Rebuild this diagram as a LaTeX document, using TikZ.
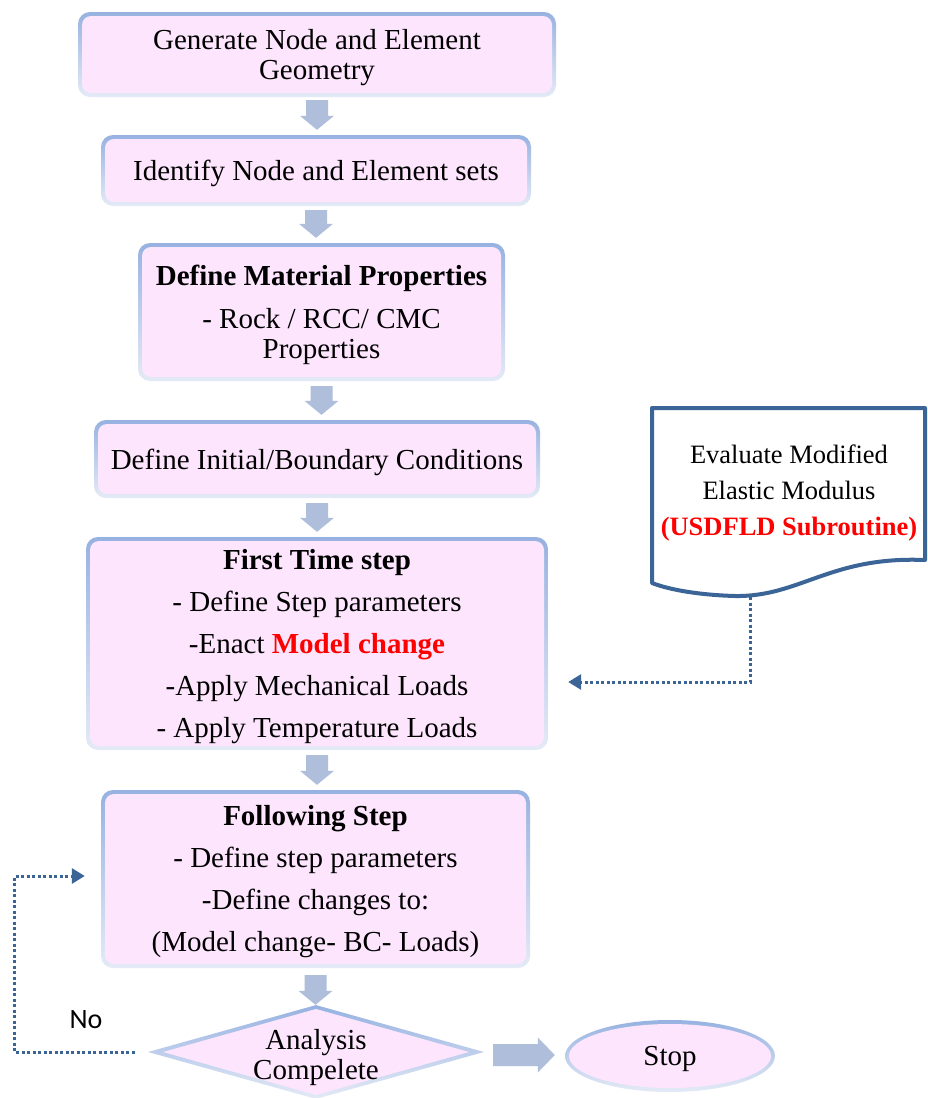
\documentclass[tikz,border=0pt]{standalone}
\usepackage{fontspec}
\setmainfont{Liberation Serif}
\newfontfamily\calfont{Carlito}
\usetikzlibrary{shapes.geometric,arrows.meta,calc}
\definecolor{pinkfill}{RGB}{253,229,253}
\definecolor{bordertop}{RGB}{151,178,225}
\definecolor{borderbot}{RGB}{228,234,246}
\definecolor{arrowc}{RGB}{174,190,219}
\definecolor{darkblue}{RGB}{59,100,151}
\definecolor{redtxt}{RGB}{255,0,0}
\newcommand{\vblock}[4]{%
  \coordinate (A) at ($(#1.south)+(0,-#3)$);
  \coordinate (B) at ($(#1.south |- #2.north)+(0,#4)$);
  \fill[arrowc] ($(A)+(-11pt,0)$) -- ($(B)+(-11pt,14pt)$) -- ($(B)+(-17pt,14pt)$) -- (B)
    -- ($(B)+(17pt,14pt)$) -- ($(B)+(11pt,14pt)$) -- ($(A)+(11pt,0)$) -- cycle;}
\tikzset{
  txt/.style={label={[align=center, inner sep=0pt, yshift=-3pt,
     font=\fontsize{29}{30}\selectfont]center:{#1}}},
  txtwide/.style={label={[align=center, inner sep=0pt, yshift=-3pt,
     font=\fontsize{29}{42}\selectfont]center:{#1}}},
  gbox/.style={rectangle, rounded corners=12pt, inner sep=0pt,
    top color=bordertop, bottom color=borderbot, draw=none,
    path picture={\fill[pinkfill, rounded corners=9pt]
      ($(path picture bounding box.south west)+(4pt,4pt)$) rectangle
      ($(path picture bounding box.north east)+(-4pt,-4pt)$);}},
  gdia/.style={diamond, inner sep=0pt, minimum width=336pt, minimum height=94pt,
    top color=bordertop, bottom color=borderbot, draw=none,
    path picture={\fill[pinkfill]
      ($(path picture bounding box.center)+(-153pt,0)$) --
      ($(path picture bounding box.center)+(0,43pt)$) --
      ($(path picture bounding box.center)+(153pt,0)$) --
      ($(path picture bounding box.center)+(0,-43pt)$) -- cycle;}},
  gell/.style={ellipse, inner sep=0pt, minimum width=210pt, minimum height=72pt,
    top color=bordertop, bottom color=borderbot, draw=none,
    path picture={\fill[pinkfill] (path picture bounding box.center)
      ellipse [x radius=101pt, y radius=32pt];}},
  dotconn/.style={draw=darkblue, line width=3pt, dash pattern=on 3pt off 2.5pt,
    -{Triangle[width=15pt,length=13pt]}},
}
\begin{document}
\begin{tikzpicture}[x=1pt,y=-1pt]
\fill[white] (0,0) rectangle (928,1098);
\useasboundingbox (0,0) rectangle (928,1098);

\node[gbox, minimum width=478pt, minimum height=85pt,
  txt={Generate Node and Element\\Geometry}] (n1) at (317,54.5) {};
\node[gbox, minimum width=430pt, minimum height=71pt,
  txt={Identify Node and Element sets}] (n2) at (316,170.5) {};
\node[gbox, minimum width=367pt, minimum height=138pt,
  txt={\textbf{Define Material Properties}\\[13pt]- Rock / RCC/ CMC\\Properties}] (n3) at (321.5,312) {};
\node[gbox, minimum width=446pt, minimum height=78pt,
  txt={Define Initial/Boundary Conditions}] (n4) at (317,459) {};
\node[gbox, minimum width=462pt, minimum height=213pt,
  txtwide={\textbf{First Time step}\\- Define Step parameters\\-Enact \textcolor{redtxt}{\textbf{Model change}}\\-Apply Mechanical Loads\\- Apply Temperature Loads}] (n5) at (317,643.5) {};
\node[gbox, minimum width=429pt, minimum height=178pt,
  txtwide={\textbf{Following Step}\\- Define step parameters\\-Define changes to:\\(Model change- BC- Loads)}] (n6) at (315.5,879) {};
\node[gdia] (dia) at (316,1052) {};
\node[align=center, font=\fontsize{29}{30}\selectfont] (diatext) at (316,1058) {Analysis\\Compelete};
\node[gell, txt={Stop}] (stop) at (670,1056) {};

% document shape
\draw[darkblue, line width=4pt, line join=round, fill=white]
  (652,583) -- (652,408) -- (925,408) -- (925,560)
  .. controls (830,556) and (800,597) .. (735,596)
  .. controls (700,595) and (670,590) .. (652,583) -- cycle;
\node[align=center, font=\fontsize{26.5}{36}\selectfont] (doc) at (789,493)
  {Evaluate Modified\\Elastic Modulus\\\textcolor{redtxt}{\textbf{(USDFLD Subroutine)}}};
\coordinate (docb) at (750,597);
\coordinate (in5) at ($(n5.east)+(20pt,-38.5pt)$);

% block arrows
\vblock{n1}{n2}{3pt}{5pt}
\vblock{n2}{n3}{4pt}{5pt}
\vblock{n3}{n4}{5pt}{5pt}
\vblock{n4}{n5}{5pt}{5pt}
\vblock{n5}{n6}{5pt}{5pt}
\vblock{n6}{dia}{7pt}{0pt}
\coordinate (HA) at ($(dia.east)+(9pt,-3pt)$);
\coordinate (HB) at ($(stop.west |- HA)+(-10pt,0)$);
\fill[arrowc] ($(HA)+(0,11pt)$) -- ($(HB)+(-17pt,11pt)$) -- ($(HB)+(-17pt,17.5pt)$) -- (HB)
  -- ($(HB)+(-17pt,-17.5pt)$) -- ($(HB)+(-17pt,-11pt)$) -- ($(HA)+(0,-11pt)$) -- cycle;

% dotted connectors
\draw[dotconn] (docb) |- (in5);
\draw[dotconn] ($(dia.west)+(-13pt,0)$) -| ($(n6.west)+(-86pt,3pt)$) -- ($(n6.west)+(-16pt,3pt)$);
\node[font=\calfont\fontsize{28}{30}\selectfont] (nolabel) at (86,1020) {No};
\end{tikzpicture}
\end{document}
